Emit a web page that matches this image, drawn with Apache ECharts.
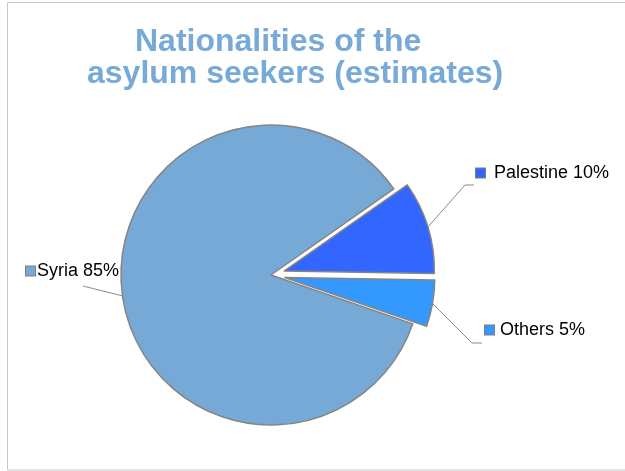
<!DOCTYPE html>
<html><head><meta charset="utf-8">
<script src="https://cdn.jsdelivr.net/npm/echarts@6/dist/echarts.min.js"></script>
<style>html,body{margin:0;padding:0;background:#fff}#c{width:625px;height:471px}</style>
</head><body><div id="c"></div>
<script>
// ---- data ----
const categories = ['Syria', 'Palestine', 'Others'];
const shares = [85, 10, 5];
const exploded = [false, true, true];
const sliceColors = ['#76A9D5', '#3366FF', '#3399FF'];
const titleLines = ['Nationalities of the', 'asylum seekers (estimates)'];

// ---- layout / style ----
const PIE_CENTER = [271, 275];
const PIE_RADIUS = 150;
const EXPLODE = 14;
const labelAnchors = [
  { x: 26,  y: 271, bend: [[57, 15]] },
  { x: 476, y: 173, bend: [[-11, 12], [-2, 12]] },
  { x: 485, y: 330, bend: [[-13, 13], [-3, 13]] }
];
const markerGap = [2, 9, 6];

const FONT = '"Liberation Sans", Arial, Helvetica, sans-serif';
const rich = {};
sliceColors.forEach((c, i) => {
  rich['m' + i] = { width: 9, height: 9, backgroundColor: c, borderColor: '#7f7f7f', borderWidth: 1 };
  rich['t' + i] = { fontSize: 18, fontFamily: FONT, color: '#000', padding: [0, 0, 0, markerGap[i]] };
});

const common = {
  type: 'pie',
  center: PIE_CENTER,
  radius: [0, PIE_RADIUS],
  startAngle: -19,
  clockwise: true,
  avoidLabelOverlap: false,
  emphasis: { disabled: true },
  silent: true
};

const chart = echarts.init(document.getElementById('c'), null, { renderer: 'canvas' });
chart.setOption({
  animation: false,
  backgroundColor: '#fff',
  graphic: [{
    type: 'rect', silent: true,
    shape: { x: 7.5, y: 2.5, width: 640, height: 467.5 },
    style: { fill: 'none', stroke: '#c8c8c8', lineWidth: 1 }
  }],
  title: [
    { text: titleLines[0], left: 135, top: 26, padding: 0,
      textStyle: { fontSize: 32, fontWeight: 'bold', fontFamily: FONT, color: '#77AAD6' } },
    { text: titleLines[1], left: 87, top: 58, padding: 0,
      textStyle: { fontSize: 32, fontWeight: 'bold', fontFamily: FONT, color: '#77AAD6' } }
  ],
  series: [
    Object.assign({}, common, {
      name: 'slices',
      selectedMode: 'multiple',
      selectedOffset: EXPLODE,
      itemStyle: { borderColor: '#858585', borderWidth: 1.5 },
      label: { show: false },
      labelLine: { show: false },
      data: categories.map((name, i) => ({
        name: name, value: shares[i], selected: exploded[i],
        itemStyle: { color: sliceColors[i] }
      }))
    }),
    Object.assign({}, common, {
      name: 'labels',
      z: 3,
      itemStyle: { color: 'rgba(0,0,0,0)', borderWidth: 0 },
      label: {
        show: true, position: 'outside',
        formatter: p => `{m${p.dataIndex}|}{t${p.dataIndex}|${p.name} ${p.value}%}`,
        rich: rich
      },
      labelLine: { show: true, length: 10, length2: 10, lineStyle: { color: '#8a8a8a', width: 1 } },
      labelLayout: function (p) {
        const a = labelAnchors[p.dataIndex];
        let start = p.labelLinePoints ? p.labelLinePoints[0].slice() : [a.x, a.y];
        if (exploded[p.dataIndex]) {
          const dx = start[0] - PIE_CENTER[0], dy = start[1] - PIE_CENTER[1];
          const len = Math.hypot(dx, dy) || 1;
          start = [start[0] + dx / len * EXPLODE, start[1] + dy / len * EXPLODE];
        }
        const pts = [start].concat(a.bend.map(d => [a.x + d[0], a.y + d[1]]));
        return { x: a.x, y: a.y, align: 'left', verticalAlign: 'middle', labelLinePoints: pts };
      },
      data: categories.map((name, i) => ({ name: name, value: shares[i] }))
    })
  ]
});
</script></body></html>
